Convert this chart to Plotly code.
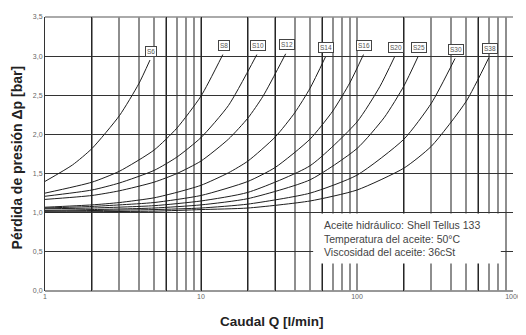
import math
import plotly.graph_objects as go

# ---------------- data ----------------
series_names = ["S6", "S8", "S10", "S12", "S14", "S16", "S20", "S25", "S30", "S38"]

q_S6 = [1, 1.5, 2, 3, 4, 4.71]
p_S6 = [1.40, 1.61, 1.82, 2.24, 2.65, 2.95]

q_S8 = [1, 2, 3, 5, 7, 10, 13.8]
p_S8 = [1.25, 1.39, 1.53, 1.80, 2.08, 2.49, 3.02]

q_S10 = [1, 2, 3, 5, 7, 10, 15, 22.8]
p_S10 = [1.21, 1.29, 1.38, 1.54, 1.71, 1.96, 2.37, 3.02]

q_S12 = [1, 2, 3, 5, 7, 10, 15, 20, 25, 34.9]
p_S12 = [1.17, 1.22, 1.28, 1.39, 1.50, 1.66, 1.94, 2.21, 2.49, 3.03]

q_S14 = [1, 2, 3, 5, 7, 10, 15, 20, 30, 40, 50, 62.8]
p_S14 = [1.07, 1.10, 1.13, 1.19, 1.26, 1.35, 1.51, 1.66, 1.97, 2.28, 2.59, 2.99]

q_S16 = [1, 2, 3, 5, 10, 20, 30, 50, 70, 90, 110]
p_S16 = [1.06, 1.08, 1.10, 1.13, 1.22, 1.40, 1.58, 1.94, 2.30, 2.66, 3.02]

q_S20 = [1, 2, 5, 10, 20, 50, 100, 140, 174]
p_S20 = [1.05, 1.06, 1.09, 1.15, 1.26, 1.60, 2.16, 2.61, 2.99]

q_S25 = [1, 2, 5, 10, 20, 50, 100, 150, 200, 247]
p_S25 = [1.03, 1.04, 1.06, 1.10, 1.18, 1.42, 1.82, 2.22, 2.62, 3.00]

q_S30 = [1, 5, 10, 20, 50, 100, 200, 300, 425]
p_S30 = [1.02, 1.04, 1.06, 1.11, 1.25, 1.48, 1.94, 2.40, 2.97]

q_S38 = [1, 5, 10, 20, 50, 100, 200, 300, 500, 700]
p_S38 = [1.01, 1.02, 1.04, 1.06, 1.15, 1.29, 1.57, 1.85, 2.42, 2.98]

q_list = [q_S6, q_S8, q_S10, q_S12, q_S14, q_S16, q_S20, q_S25, q_S30, q_S38]
p_list = [p_S6, p_S8, p_S10, p_S12, p_S14, p_S16, p_S20, p_S25, p_S30, p_S38]

x_tick_vals = [1, 10, 100, 1000]
x_tick_text = ["1", "10", "100", "1000"]
y_tick_vals = [0, 0.5, 1.0, 1.5, 2.0, 2.5, 3.0, 3.5]

grid_all = [m * d for d in (1, 10, 100) for m in range(1, 10)] + [1000]
grid_dark = [2, 6, 10, 20, 30, 60, 200, 600]

info_text = ("Aceite hidráulico: Shell Tellus 133<br>"
             "Temperatura del aceite: 50°C<br>"
             "Viscosidad del aceite: 36cSt")

x_title = "Caudal Q [l/min]"
y_title = "Pérdida de presión Δp [bar]"

# ---------------- figure ----------------
fig = go.Figure()

for name, q, p in zip(series_names, q_list, p_list):
    fig.add_trace(go.Scatter(
        x=q, y=p, mode="lines", name=name,
        line=dict(color="#1e1e1e", width=1, shape="spline", smoothing=0.6),
        showlegend=False, hoverinfo="skip", xaxis="x", yaxis="y"))
    fig.add_annotation(
        x=math.log10(q[-1]), y=p[-1], xref="x", yref="y",
        text=name, showarrow=False, yshift=9, xshift=1,
        font=dict(family="Liberation Sans, Arial", size=6.5, color="#555"),
        bgcolor="white", bordercolor="#444", borderwidth=1, borderpad=1)

# invisible trace on overlay axis for dark grid lines
fig.add_trace(go.Scatter(x=[1, 1000], y=[0, 0], mode="lines",
                         line=dict(width=0), showlegend=False,
                         hoverinfo="skip", xaxis="x2", yaxis="y"))

tick_font = dict(family="Liberation Sans, Arial", size=7, color="#666")

# the page body has an 8px margin, so the figure is sized to fit inside it
fig.update_layout(
    width=518, height=327,
    margin=dict(l=37, r=10, t=5, b=44),
    paper_bgcolor="white", plot_bgcolor="white",
    separators=", ",
    xaxis=dict(
        type="log", range=[0, 3],
        tickvals=grid_all,
        ticktext=[x_tick_text[x_tick_vals.index(v)] if v in x_tick_vals else "" for v in grid_all],
        showgrid=True, gridcolor="#8e8e8e", gridwidth=1.6,
        ticks="", tickfont=tick_font,
        showline=False, zeroline=False, layer="below traces"),
    xaxis2=dict(
        type="log", range=[0, 3], overlaying="x",
        tickvals=grid_dark, showticklabels=False,
        showgrid=True, gridcolor="#262626", gridwidth=1,
        ticks="", showline=False, zeroline=False),
    yaxis=dict(
        range=[0, 3.5], tickvals=y_tick_vals, tickformat=".1f",
        showgrid=True, gridcolor="#333", gridwidth=1,
        ticks="", tickfont=tick_font,
        showline=True, linecolor="#333", linewidth=1,
        zeroline=False),
)

# top border line at 3.5 (gray)
fig.add_shape(type="line", xref="paper", yref="paper", x0=0, x1=1, y0=1, y1=1,
              line=dict(color="#8e8e8e", width=1.6), layer="below")
# bottom axis line
fig.add_shape(type="line", xref="paper", yref="paper", x0=0, x1=1, y0=0, y1=0,
              line=dict(color="#333", width=1), layer="below")

# info box
fig.add_shape(type="rect", xref="paper", yref="paper",
              x0=0.573, x1=0.974, y0=0.10, y1=0.283,
              fillcolor="white", line=dict(width=0), layer="above")
fig.add_annotation(xref="paper", yref="paper", x=0.592, y=0.192,
                   xanchor="left", yanchor="middle", align="left",
                   text=info_text, showarrow=False,
                   font=dict(family="Liberation Sans, Arial", size=10.5, color="#444"))

# axis titles
fig.add_annotation(xref="paper", yref="paper", x=0.486, y=-0.111,
                   xanchor="center", yanchor="middle", showarrow=False,
                   text="<b>" + x_title + "</b>",
                   font=dict(family="Liberation Sans, Arial", size=13.5, color="#222"))
fig.add_annotation(xref="paper", yref="paper", x=-0.059, y=0.489,
                   xanchor="center", yanchor="middle", showarrow=False,
                   textangle=-90, text="<b>" + y_title + "</b>",
                   font=dict(family="Liberation Sans, Arial", size=14, color="#222"))

fig.write_html("out.html")
